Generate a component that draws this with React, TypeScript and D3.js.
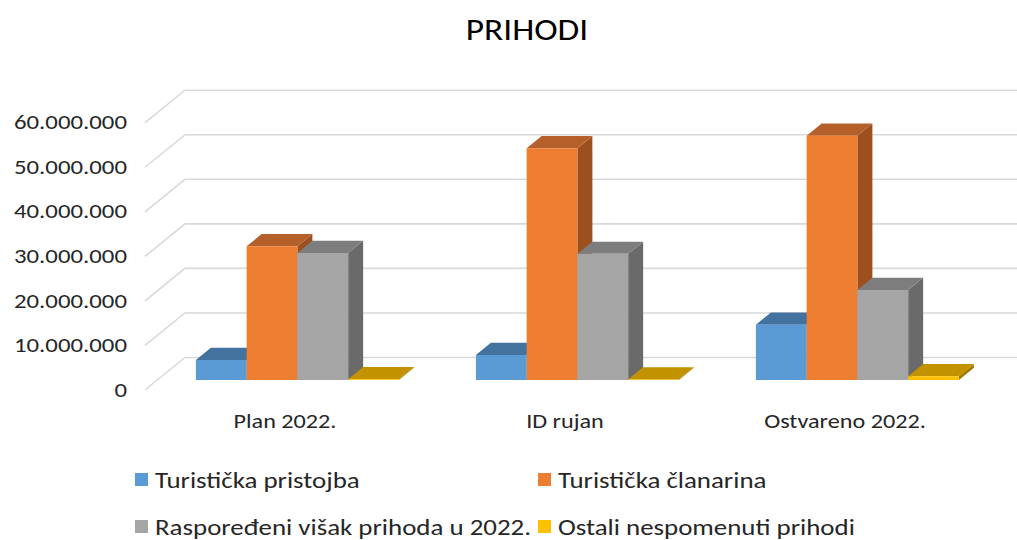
import React from "react";
import * as d3 from "d3";

const categories = ["Plan 2022.", "ID rujan", "Ostvareno 2022."];
const seriesNames = [
  "Turistička pristojba",
  "Turistička članarina",
  "Raspoređeni višak prihoda u 2022.",
  "Ostali nespomenuti prihodi",
];
const turistickaPristojba = [4500000, 5600000, 12400000];
const turistickaClanarina = [30000000, 52000000, 54800000];
const rasporedeniVisak = [28500000, 28300000, 20200000];
const ostaliPrihodi = [150000, 100000, 850000];
const yTicks = [0, 10000000, 20000000, 30000000, 40000000, 50000000, 60000000];

const seriesValues = [turistickaPristojba, turistickaClanarina, rasporedeniVisak, ostaliPrihodi];
const palette = [
  { front: "#5B9BD5", top: "#44729E", side: "#3A6590" },
  { front: "#ED7D31", top: "#B5602A", side: "#9E4F1E" },
  { front: "#A5A5A5", top: "#7D7D7D", side: "#6A6A6A" },
  { front: "#FFC000", top: "#C29200", side: "#A07800" },
];

const FONT = "Carlito, Lato, 'Open Sans', sans-serif";
const fmt = (v: number) => (v === 0 ? "0" : d3.format(",")(v).replace(/,/g, "."));

function SText(props: {
  x: number;
  y: number;
  sx: number;
  size: number;
  anchor?: "start" | "middle" | "end";
  baseline?: string;
  fill?: string;
  children: React.ReactNode;
}) {
  const { x, y, sx, size, anchor = "start", baseline, fill = "#262626", children } = props;
  return (
    <g transform={`translate(${x},${y}) scale(${sx},1)`}>
      <text
        x={0}
        y={0}
        textAnchor={anchor}
        dominantBaseline={baseline as any}
        fontFamily={FONT}
        fontSize={size}
        fill={fill}
      >
        {children}
      </text>
    </g>
  );
}

export default function App() {
  const W = 1017;
  const H = 540;
  const DX = 40; // depth offset x (full depth)
  const DY = -32.5; // depth offset y (full depth)
  const barD0 = 0.31;
  const barD1 = 0.685;

  const x = d3.scaleBand<string>().domain(categories).range([145, 985]).padding(0);
  const y = d3.scaleLinear().domain([0, 60000000]).range([390, 122.7]);
  const groupFrac = 0.725;
  const inner = d3
    .scaleBand<number>()
    .domain(d3.range(seriesNames.length))
    .range([0, x.bandwidth() * groupFrac])
    .padding(0);

  const proj = (px: number, v: number, d: number): [number, number] => [px + DX * d, y(v) + DY * d];
  const pts = (arr: [number, number][]) => arr.map((p) => p.join(",")).join(" ");

  const bars: React.ReactNode[] = [];
  categories.forEach((c, ci) => {
    const gx = (x(c) as number) + (x.bandwidth() * (1 - groupFrac)) / 2;
    seriesNames.forEach((s, si) => {
      const v = seriesValues[si][ci];
      const x0 = gx + (inner(si) as number);
      const x1 = x0 + inner.bandwidth();
      const col = palette[si];
      const fBL = proj(x0, 0, barD0);
      const fBR = proj(x1, 0, barD0);
      const fTL = proj(x0, v, barD0);
      const fTR = proj(x1, v, barD0);
      const bTL = proj(x0, v, barD1);
      const bTR = proj(x1, v, barD1);
      const bBR = proj(x1, 0, barD1);
      bars.push(
        <g key={`${ci}-${si}`}>
          <polygon points={pts([fBR, fTR, bTR, bBR])} fill={col.side} />
          <polygon points={pts([fTL, fTR, bTR, bTL])} fill={col.top} />
          <polygon points={pts([fBL, fBR, fTR, fTL])} fill={col.front} />
        </g>
      );
    });
  });

  const legendItems = [
    { si: 0, x: 135, y: 480 },
    { si: 1, x: 538, y: 480 },
    { si: 2, x: 135, y: 527 },
    { si: 3, x: 538, y: 527 },
  ];

  return (
    <svg width={W} height={H} style={{ position: "absolute", left: 0, top: 0 }}>
      <rect width={W} height={H} fill="#ffffff" />
      <SText x={527} y={40} sx={1.14} size={31} anchor="middle" fill="#000000">
        PRIHODI
      </SText>
      {yTicks.map((t) => {
        const a = proj(145, t, 0);
        const b = proj(145, t, 1);
        return (
          <g key={t}>
            <polyline
              points={pts([a, b, [W + 10, b[1]]])}
              fill="none"
              stroke="#D9D9D9"
              strokeWidth={1.6}
            />
            <SText x={127} y={a[1]} sx={1.24} size={20} anchor="end" baseline="central">
              {fmt(t)}
            </SText>
          </g>
        );
      })}
      {bars}
      {categories.map((c) => (
        <SText
          key={c}
          x={(x(c) as number) + x.bandwidth() / 2}
          y={428}
          sx={1.21}
          size={20}
          anchor="middle"
        >
          {c}
        </SText>
      ))}
      {legendItems.map((it) => (
        <g key={it.si}>
          <rect x={it.x} y={it.y - 7} width={13} height={13} fill={palette[it.si].front} />
          <SText x={it.x + 20} y={it.y} sx={1.17} size={23} baseline="central">
            {seriesNames[it.si]}
          </SText>
        </g>
      ))}
    </svg>
  );
}
